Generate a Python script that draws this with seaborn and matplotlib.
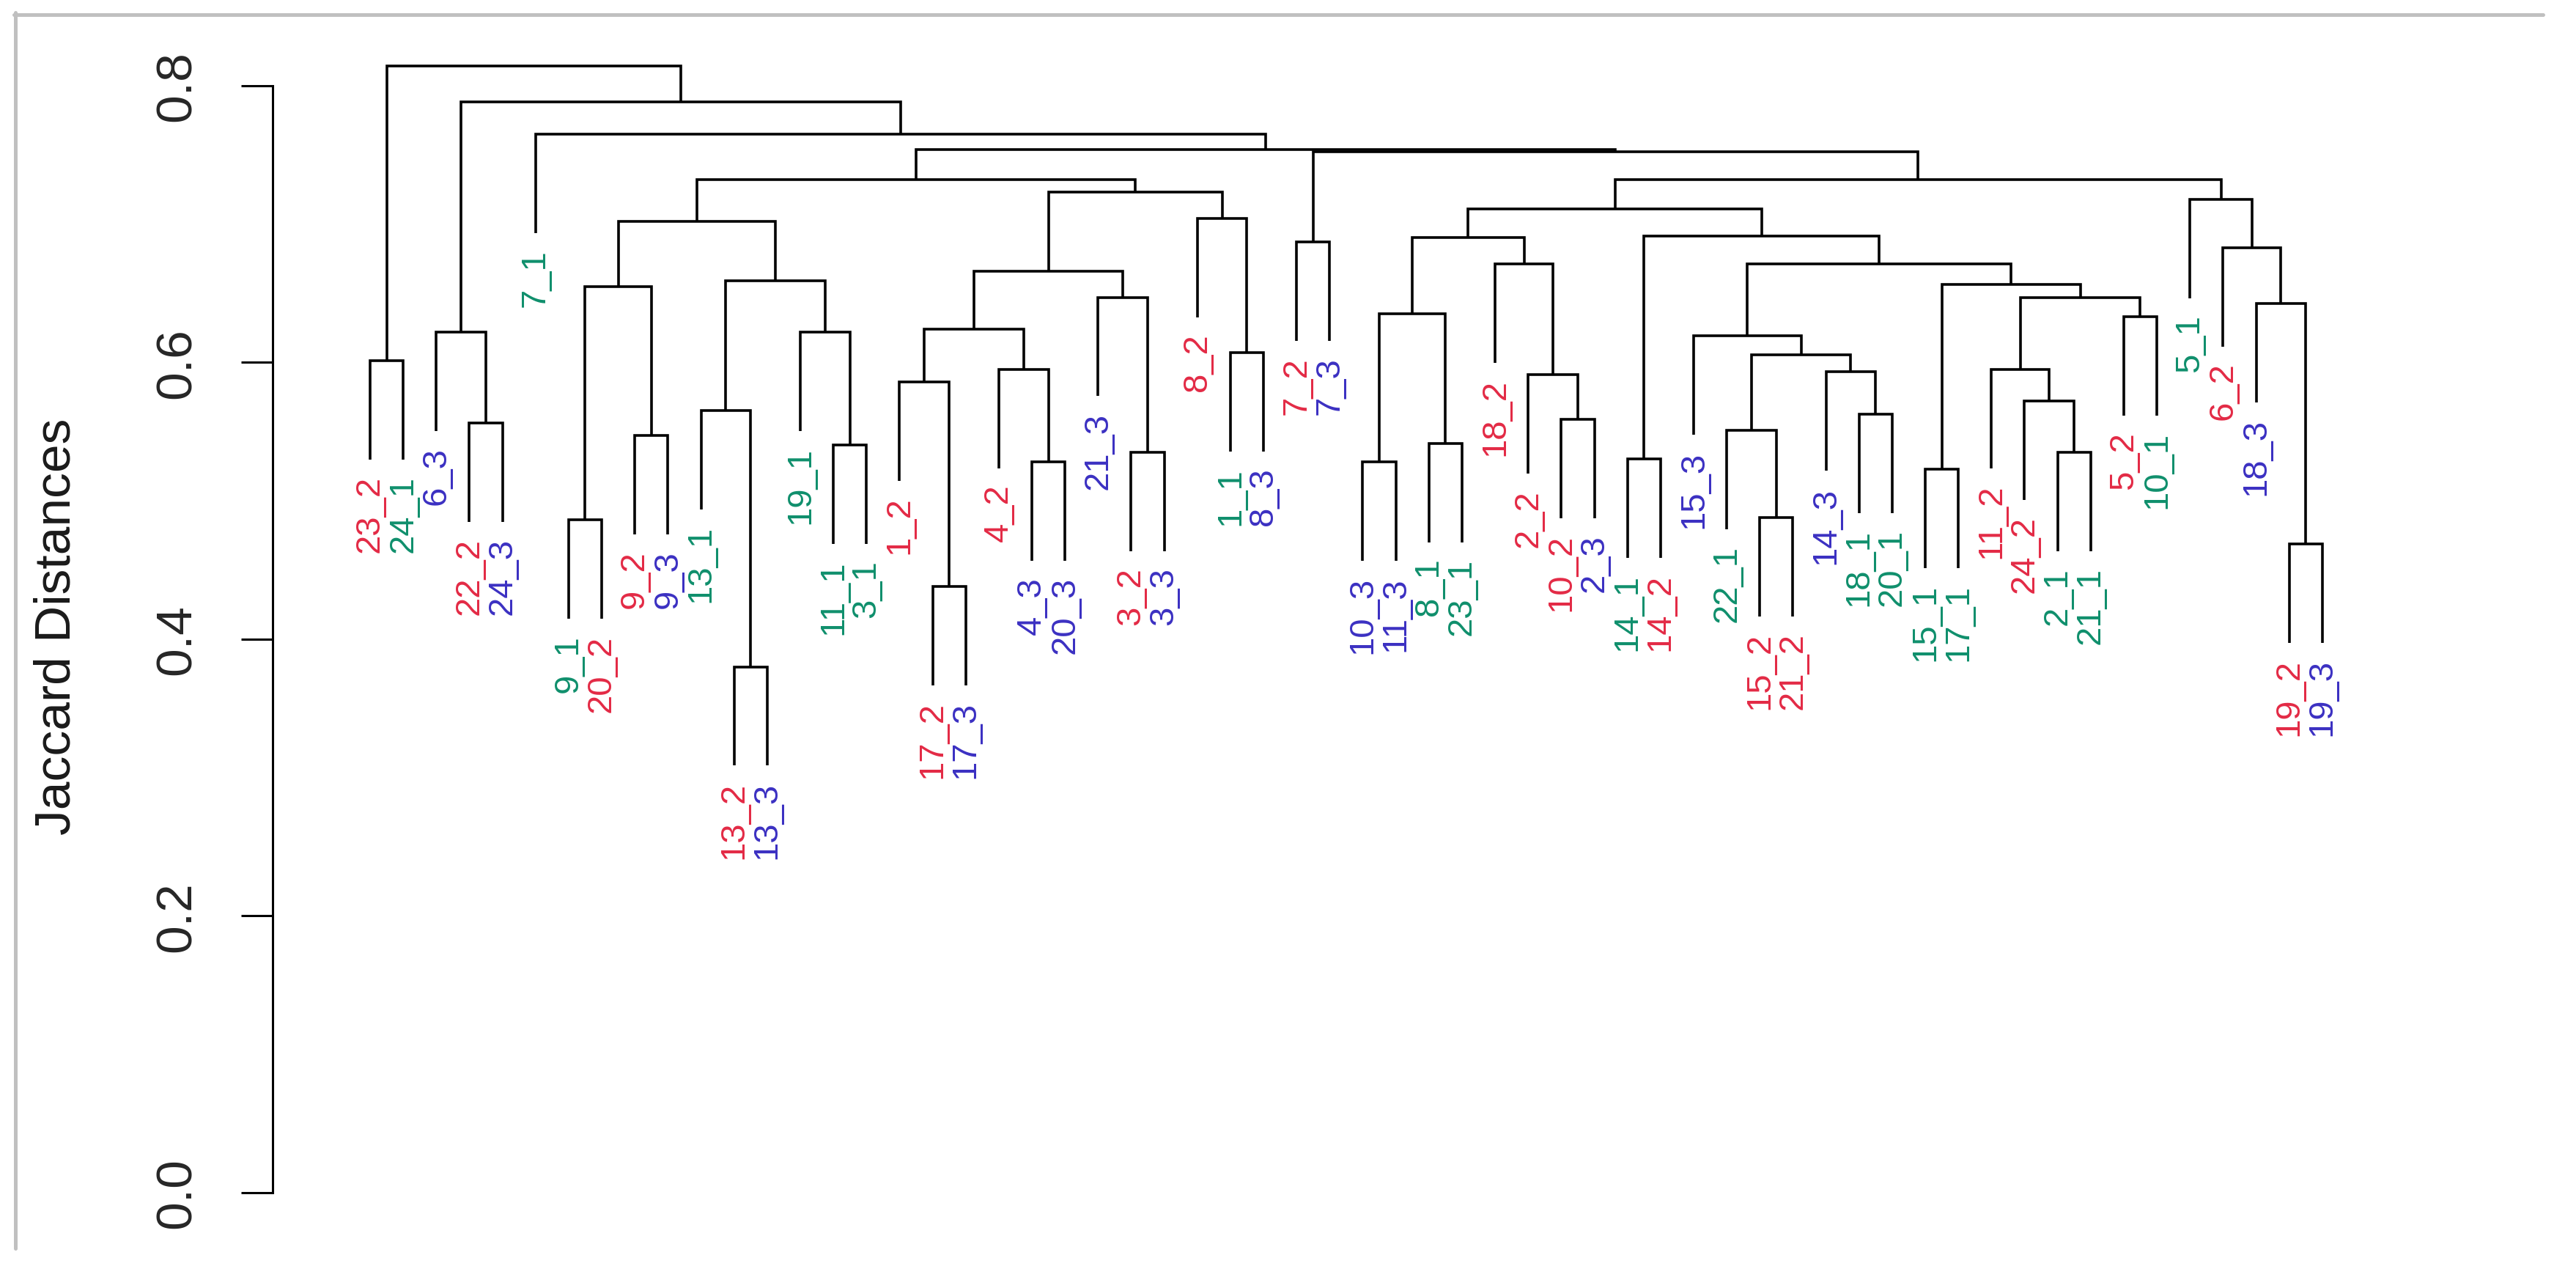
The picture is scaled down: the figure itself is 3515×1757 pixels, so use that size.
import numpy as np
import pandas as pd
import matplotlib
matplotlib.use("Agg")
import matplotlib.pyplot as plt
import seaborn as sns
from matplotlib.transforms import offset_copy
from matplotlib.lines import Line2D

# ---------------- data ----------------
leaf_labels = ["23_2", "24_1", "6_3", "22_2", "24_3", "7_1", "9_1", "20_2", "9_2", "9_3",
               "13_1", "13_2", "13_3", "19_1", "11_1", "3_1", "1_2", "17_2", "17_3", "4_2",
               "4_3", "20_3", "21_3", "3_2", "3_3", "8_2", "1_1", "8_3", "7_2", "7_3",
               "10_3", "11_3", "8_1", "23_1", "18_2", "2_2", "10_2", "2_3", "14_1", "14_2",
               "15_3", "22_1", "15_2", "21_2", "14_3", "18_1", "20_1", "15_1", "17_1", "11_2",
               "24_2", "2_1", "21_1", "5_2", "10_1", "5_1", "6_2", "18_3", "19_2", "19_3"]

# R-style merge matrix: negative = leaf (position in leaf_labels, 1-based), positive = earlier merge row
merge_left = [-1, -4, -3, -7, -9, 4, -12, -11, -15, -14,
              8, 6, -18, -17, -21, -20, 14, -24, -23, 17,
              -27, -26, 20, 12, -29, -31, -33, 26, -37, -36,
              -35, 28, -39, -43, -42, -46, -45, 35, -41, -48,
              -52, -51, -50, -54, 43, 40, 39, 33, 32, -59,
              -58, -57, -56, 49, 25, 24, -6, 3, 1]
merge_right = [-2, -5, 2, -8, -10, 5, -13, 7, -16, 9,
               10, 11, -19, 13, -22, 15, 16, -25, 18, 19,
               -28, 21, 22, 23, -30, -32, -34, 27, -38, 29,
               30, 31, -40, -44, 34, -47, 36, 37, 38, -49,
               -53, 41, 42, -55, 44, 45, 46, 47, 48, -60,
               50, 51, 52, 53, 54, 55, 56, 57, 58]
merge_height = [0.601, 0.556, 0.622, 0.486, 0.547, 0.6545, 0.380, 0.565, 0.540, 0.622,
                0.659, 0.702, 0.438, 0.586, 0.528, 0.595, 0.624, 0.535, 0.647, 0.666,
                0.607, 0.704, 0.723, 0.732, 0.687, 0.528, 0.5415, 0.635, 0.5586, 0.591,
                0.671, 0.690, 0.530, 0.4877, 0.551, 0.5627, 0.593, 0.6055, 0.619, 0.5226,
                0.535, 0.572, 0.595, 0.633, 0.647, 0.6564, 0.671, 0.691, 0.711, 0.4687,
                0.6426, 0.683, 0.7177, 0.732, 0.752, 0.754, 0.765, 0.788, 0.814]
hang = 0.0715
y_ticks = [0.0, 0.2, 0.4, 0.6, 0.8]
y_label = "Jaccard Distances"
group_colors = {"1": "#0f8f6c", "2": "#e32a45", "3": "#3b30c2"}

# ---------------- style ----------------
sns.set_theme(style="white")
plt.rcParams["font.family"] = ["Liberation Sans", "DejaVu Sans"]

W, H, DPI = 3516, 1758, 200
fig = plt.figure(figsize=(W / DPI, H / DPI), dpi=DPI)
fig.patch.set_facecolor("white")

ax_left_px, ax_right_px = 372, 3330
ax_bottom_px, ax_top_px = 1684.4, 61.1
ax = fig.add_axes([ax_left_px / W, 1 - ax_bottom_px / H,
                   (ax_right_px - ax_left_px) / W, (ax_bottom_px - ax_top_px) / H])
ax.set_facecolor("white")

n = len(leaf_labels)
leaf_pos = np.arange(1, n + 1)

# compute node positions and draw the dendrogram
node_x = {}
node_h = {}
lw = 1.3
for i, (a, b, h) in enumerate(zip(merge_left, merge_right, merge_height), start=1):
    xs, ys = [], []
    for c in (a, b):
        if c < 0:
            xc = leaf_pos[-c - 1]
            yc = h - hang
        else:
            xc = node_x[c]
            yc = node_h[c]
        xs.append(xc)
        ys.append(yc)
    node_x[i] = (xs[0] + xs[1]) / 2.0
    node_h[i] = h
    ax.plot([xs[0], xs[0], xs[1], xs[1]], [ys[0], h, h, ys[1]],
            color="black", lw=lw, solid_capstyle="butt", solid_joinstyle="miter")

# leaf labels
leaf_bottom = {}
for a, b, h in zip(merge_left, merge_right, merge_height):
    for c in (a, b):
        if c < 0:
            leaf_bottom[-c] = h - hang

trans = offset_copy(ax.transData, fig=fig, x=0, y=-21 / DPI * 72, units="points")
for k, lab in enumerate(leaf_labels, start=1):
    col = group_colors[lab.split("_")[1]]
    ax.text(leaf_pos[k - 1], leaf_bottom[k], lab, rotation=90, ha="center", va="top",
            fontsize=17, color=col, transform=trans)

# axes
ax.set_xlim(-1.946, 63.57)
ax.set_ylim(-0.03, 0.83)
ax.set_xticks([])
ax.set_yticks(y_ticks)
ax.set_yticklabels([f"{t:.1f}" for t in y_ticks], rotation=90, va="center", fontsize=25)
ax.tick_params(axis="y", length=15.5, width=1.1, pad=19.8, color="black", left=True)
for s in ["top", "right", "bottom"]:
    ax.spines[s].set_visible(False)
ax.spines["left"].set_bounds(0.0, 0.8)
ax.spines["left"].set_linewidth(1.1)
ax.spines["left"].set_color("black")
ax.grid(False)

ax.set_ylabel(y_label, fontsize=25, color="#1a1a1a")
ax.yaxis.set_label_coords(110 / W, 1 - 854.5 / H, transform=fig.transFigure)

# screenshot-like gray frame (top and left)
fig.add_artist(Line2D([21.5 / W, 21.5 / W], [1 - 18 / H, 1 - 1704 / H],
                      transform=fig.transFigure, color="#c0c0c0", lw=1.8))
fig.add_artist(Line2D([19 / W, 3470 / W], [1 - 20.5 / H, 1 - 20.5 / H],
                      transform=fig.transFigure, color="#c0c0c0", lw=1.8))

fig.savefig("out.png", dpi=DPI, facecolor="white")
